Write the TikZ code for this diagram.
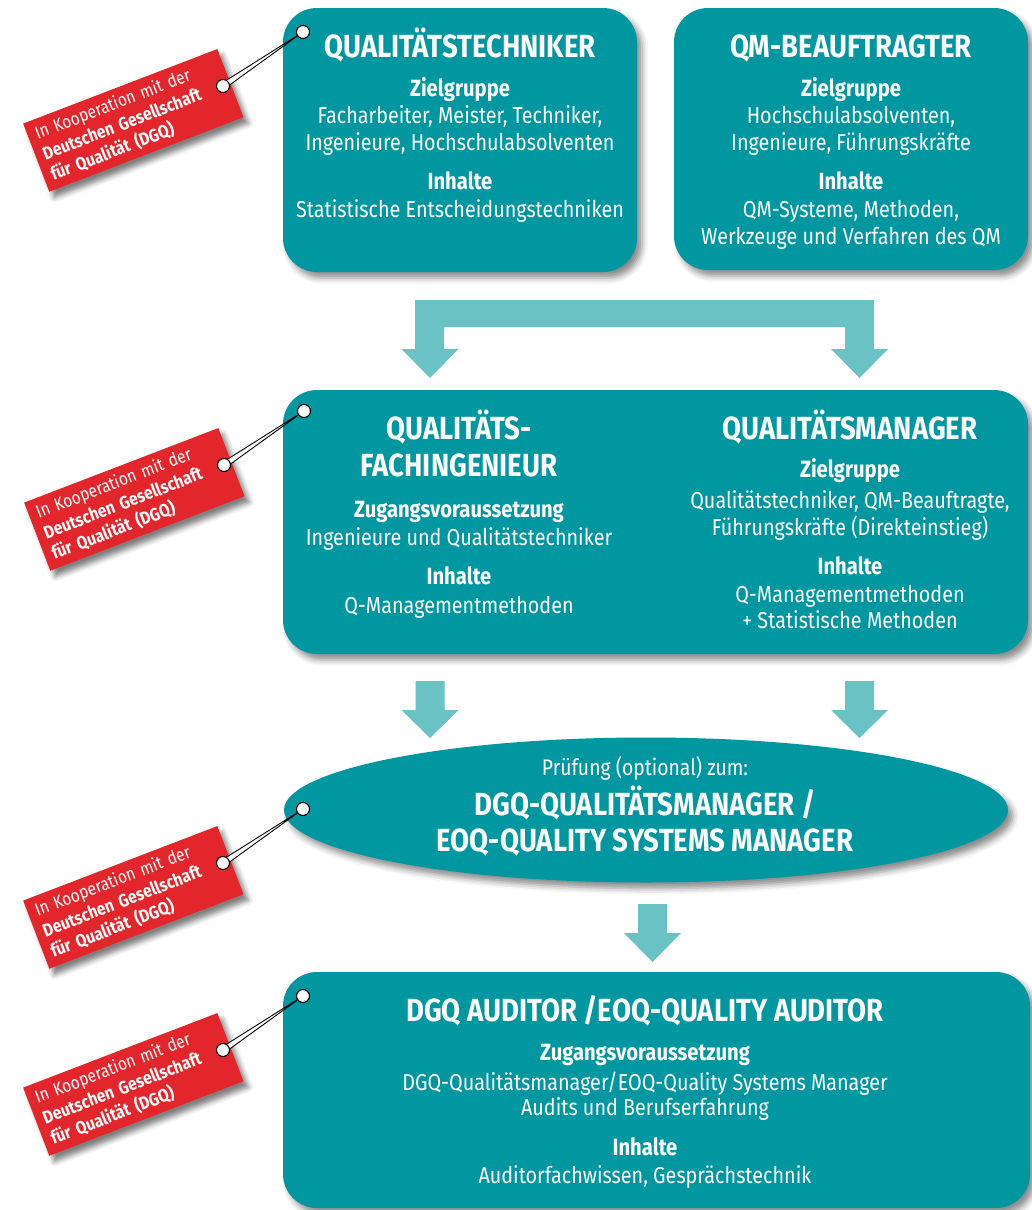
\documentclass[tikz,border=0pt]{standalone}
\usepackage{fontspec}
\setmainfont{Fira Sans}[FakeStretch=0.86]
\usetikzlibrary{shapes.geometric,calc,shadows.blur}
\definecolor{tealbox}{HTML}{0097A0}
\definecolor{arrowc}{HTML}{6AC2C5}
\definecolor{tagred}{HTML}{E3262B}
\newcommand\titlef{\bfseries\fontsize{32}{36}\selectfont}
\newcommand\bigtitlef{\bfseries\fontsize{32}{38}\selectfont}
\newcommand\headf{\bfseries\fontsize{23.5}{26}\selectfont}
\newcommand\bodyf{\fontsize{23}{27}\selectfont}
\newcommand\smallf{\fontsize{22.5}{24}\selectfont}
\newcommand\tagf{\fontsize{18}{22}\selectfont}
\tikzset{
  shad/.style={blur shadow={shadow xshift=5pt, shadow yshift=-6pt, shadow blur radius=6pt, shadow opacity=45}},
  box/.style={fill=tealbox, rounded corners=34pt, draw=none, inner sep=0pt, shad},
  ttl/.style={anchor=base, text=white, font=\titlef, inner sep=0pt},
  bigttl/.style={anchor=base, text=white, font=\bigtitlef, inner sep=0pt},
  hd/.style={anchor=base, text=white, font=\headf, inner sep=0pt},
  bd/.style={anchor=base, text=white, font=\bodyf, inner sep=0pt},
  sm/.style={anchor=base, text=white, font=\smallf, inner sep=0pt},
  arr/.style={fill=arrowc, draw=none},
  hookc/.style={circle, fill=white, draw=black, line width=1.1pt, minimum size=13pt, inner sep=0pt},
  tagbox/.style={fill=tagred, rotate=21, minimum width=208pt, minimum height=73pt,
     text width=192pt, inner xsep=8pt, inner ysep=0pt, align=left, text=white, font=\tagf,
     blur shadow={shadow xshift=5pt, shadow yshift=-6pt, shadow blur radius=5pt, shadow opacity=50}},
  stringl/.style={draw=black, line width=0.9pt, fill=white},
}
\newcommand\blockarr[4]{%
  \fill[arr] ({#1-14.5},#2) -- ({#1+14.5},#2) -- ({#1+14.5},#3) -- ({#1+28.5},#3) -- (#1,#4)
     -- ({#1-28.5},#3) -- ({#1-14.5},#3) -- cycle;}
\newcommand\dgqtag[2]{%
  \path (#2) ++(-80,54) coordinate (#1hole);
  \node[tagbox] (#1) at ($(#1hole)+(-89.7,34.4)$)
    {In Kooperation mit der\\\textbf{Deutschen Gesellschaft}\\\textbf{für Qualität (DGQ)}};
  \filldraw[stringl] (#2.center) -- ($(#1hole)+(1.7,2.5)$) -- ($(#1hole)+(-1.7,-2.5)$) -- cycle;
  \node[hookc] at (#1hole) {};
  \node[hookc] at (#2) {};}
\begin{document}
\begin{tikzpicture}[x=1pt,y=-1pt]
\useasboundingbox (0,0) rectangle (1031,1210);
% boxes
\node[box, minimum width=354pt, minimum height=264pt] (b1) at (460,140) {};
\node[box, minimum width=354pt, minimum height=262pt] (b2) at (851,139) {};
\node[box, minimum width=745pt, minimum height=264pt] (b3) at (655.5,522) {};
\node[ellipse, fill=tealbox, minimum width=724pt, minimum height=145pt, inner sep=0pt, shad] (ell) at (646,810) {};
\node[box, minimum width=747pt, minimum height=236pt] (b4) at (656.5,1090) {};
% arrows
\fill[arr] (415,300) -- (874,300) -- (874,349) -- (888,349) -- (859.5,378) -- (831,349) -- (845,349)
  -- (845,327) -- (444,327) -- (444,349) -- (458.5,349) -- (430,378) -- (401.5,349) -- (415,349) -- cycle;
\blockarr{430}{681}{710}{738}
\blockarr{859.5}{681}{710}{738}
\blockarr{652.5}{904}{933}{962}
% box 1
\node[ttl] (t1) at (460,57) {QUALITÄTSTECHNIKER};
\node[hd] (t1a) at (460,96) {Zielgruppe};
\node[bd] (t1b) at (460,123) {Facharbeiter, Meister, Techniker,};
\node[bd] (t1c) at (460,150) {Ingenieure, Hochschulabsolventen};
\node[hd] (t1d) at (460,189) {Inhalte};
\node[bd] (t1e) at (460,217) {Statistische Entscheidungstechniken};
% box 2
\node[ttl] (t2) at (851,57) {QM-BEAUFTRAGTER};
\node[hd] (t2a) at (851,96) {Zielgruppe};
\node[bd] (t2b) at (851,123) {Hochschulabsolventen,};
\node[bd] (t2c) at (851,150) {Ingenieure, Führungskräfte};
\node[hd] (t2d) at (851,189) {Inhalte};
\node[bd] (t2e) at (851,217) {QM-Systeme, Methoden,};
\node[bd] (t2f) at (851,244) {Werkzeuge und Verfahren des QM};
% box 3 left
\node[ttl] (t3) at (459,439) {QUALITÄTS-};
\node[ttl] (t3x) at (459,476) {FACHINGENIEUR};
\node[hd] (t3a) at (459,517) {Zugangsvoraussetzung};
\node[bd] (t3b) at (459,545) {Ingenieure und Qualitätstechniker};
\node[hd] (t3c) at (459,584) {Inhalte};
\node[bd] (t3d) at (459,613) {Q-Managementmethoden};
% box 3 right
\node[ttl] (t4) at (850,439) {QUALITÄTSMANAGER};
\node[hd] (t4a) at (850,477) {Zielgruppe};
\node[bd] (t4b) at (850,508) {Qualitätstechniker, QM-Beauftragte,};
\node[bd] (t4c) at (850,535) {Führungskräfte (Direkteinstieg)};
\node[hd] (t4d) at (850,574) {Inhalte};
\node[bd] (t4e) at (850,602) {Q-Managementmethoden};
\node[bd] (t4f) at (850,628) {+ Statistische Methoden};
% ellipse
\node[sm] (t5) at (645,775) {Prüfung (optional) zum:};
\node[bigttl] (t5a) at (645,815) {DGQ-QUALITÄTSMANAGER /};
\node[bigttl] (t5b) at (645,851) {EOQ-QUALITY SYSTEMS MANAGER};
% box 4
\node[ttl] (t6) at (645,1021) {DGQ AUDITOR /EOQ-QUALITY AUDITOR};
\node[hd] (t6a) at (645,1060) {Zugangsvoraussetzung};
\node[bd] (t6b) at (645,1090) {DGQ-Qualitätsmanager/EOQ-Quality Systems Manager};
\node[bd] (t6c) at (645,1115) {Audits und Berufserfahrung};
\node[hd] (t6d) at (645,1155) {Inhalte};
\node[bd] (t6e) at (645,1183) {Auditorfachwissen, Gesprächstechnik};
% hooks and tags
\coordinate (k1) at (303,32);
\coordinate (k2) at (304,411);
\coordinate (k3) at (303,809);
\coordinate (k4) at (303,996);
\dgqtag{tagA}{k1}
\dgqtag{tagB}{k2}
\dgqtag{tagC}{k3}
\dgqtag{tagD}{k4}
\end{tikzpicture}
\end{document}
